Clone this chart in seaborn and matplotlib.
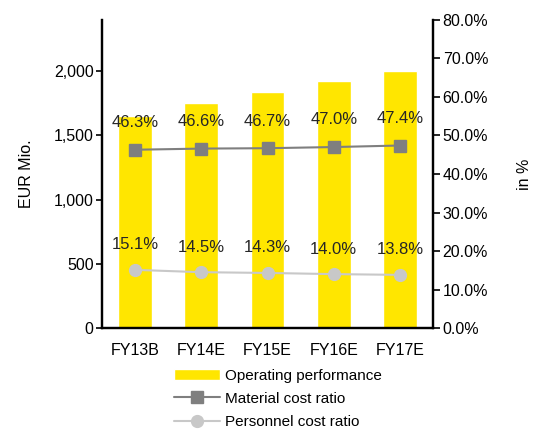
import matplotlib
matplotlib.use("Agg")
import matplotlib.pyplot as plt
import seaborn as sns
import pandas as pd

years = ["FY13B", "FY14E", "FY15E", "FY16E", "FY17E"]
operating_performance = [1652, 1755, 1836, 1927, 2005]
material_cost_ratio = [46.3, 46.6, 46.7, 47.0, 47.4]
personnel_cost_ratio = [15.1, 14.5, 14.3, 14.0, 13.8]

sns.set_theme(style="white")
plt.rcParams["font.family"] = ["Liberation Sans", "DejaVu Sans"]
plt.rcParams["font.size"] = 11

YELLOW = "#FFE600"
DARK = "#7F7F7F"
LIGHT = "#C8C8C8"

df = pd.DataFrame({
    "year": years,
    "op": operating_performance,
    "mat": material_cost_ratio,
    "pers": personnel_cost_ratio,
})

fig = plt.figure(figsize=(5.35, 4.29), dpi=100)
ax = fig.add_axes([0.1907, 0.2354, 0.6186, 0.718])

sns.barplot(data=df, x="year", y="op", color=YELLOW, saturation=1,
            width=0.51, ax=ax, label="Operating performance")
if ax.get_legend() is not None:
    ax.get_legend().remove()
ax.set_xlim(-0.5, 4.5)
ax.set_ylim(0, 2400)
ax.set_yticks([0, 500, 1000, 1500, 2000])
ax.set_yticklabels([f"{v:,}" for v in [0, 500, 1000, 1500, 2000]])
ax.set_xlabel("")
ax.set_ylabel("EUR Mio.", fontsize=11.5, labelpad=14)

ax2 = ax.twinx()
x = list(range(len(years)))
ax2.plot(x, df["mat"], color=DARK, lw=1.5, marker="s", ms=9,
         label="Material cost ratio")
ax2.plot(x, df["pers"], color=LIGHT, lw=1.5, marker="o", ms=8.5,
         label="Personnel cost ratio")
ax2.set_ylim(0, 80)
ax2.set_yticks(range(0, 81, 10))
ax2.set_yticklabels([f"{v:.1f}%" for v in range(0, 81, 10)])
ax2.set_ylabel("in %", fontsize=11.5, labelpad=21)

for xi, v in zip(x, df["mat"]):
    ax2.annotate(f"{v:.1f}%", (xi, v), xytext=(0, 19.5), textcoords="offset points",
                 ha="center", va="center", fontsize=12)
for xi, v in zip(x, df["pers"]):
    ax2.annotate(f"{v:.1f}%", (xi, v), xytext=(0, 18), textcoords="offset points",
                 ha="center", va="center", fontsize=12)

# Category boundary ticks on the x axis
ax.set_xticks(x)
ax.set_xticklabels(years)
ax.tick_params(axis="x", length=0, pad=11)
ax.set_xticks([i - 0.5 for i in range(len(years) + 1)], minor=True)
ax.tick_params(axis="x", which="minor", length=6, width=1.5, color="black", direction="out")
ax.tick_params(axis="y", length=4, width=1.2, color="black", direction="out", left=True, pad=2)
ax2.tick_params(axis="y", length=5, width=1.2, color="black", direction="out", right=True, pad=2)

for a in (ax, ax2):
    a.spines["top"].set_visible(False)
    for s in ("left", "right", "bottom"):
        a.spines[s].set_color("black")
        a.spines[s].set_linewidth(1.6)
    a.grid(False)
    for lbl in a.get_yticklabels() + a.get_xticklabels():
        lbl.set_fontsize(11.5)
        lbl.set_color("black")
ax.yaxis.label.set_color("black")
ax2.yaxis.label.set_color("black")
ax.patch.set_visible(False)
ax2.set_zorder(ax.get_zorder() + 1)

h1, l1 = ax.get_legend_handles_labels()
h2, l2 = ax2.get_legend_handles_labels()
leg = fig.legend(h1 + h2, l1 + l2, loc="upper left", bbox_to_anchor=(0.326, 0.141),
                 frameon=False, fontsize=11, handlelength=3.0, handleheight=0.8,
                 labelspacing=0.6, handletextpad=0.3, borderpad=0, borderaxespad=0)
for t in leg.get_texts():
    t.set_color("black")

fig.savefig("out.png", dpi=100)
